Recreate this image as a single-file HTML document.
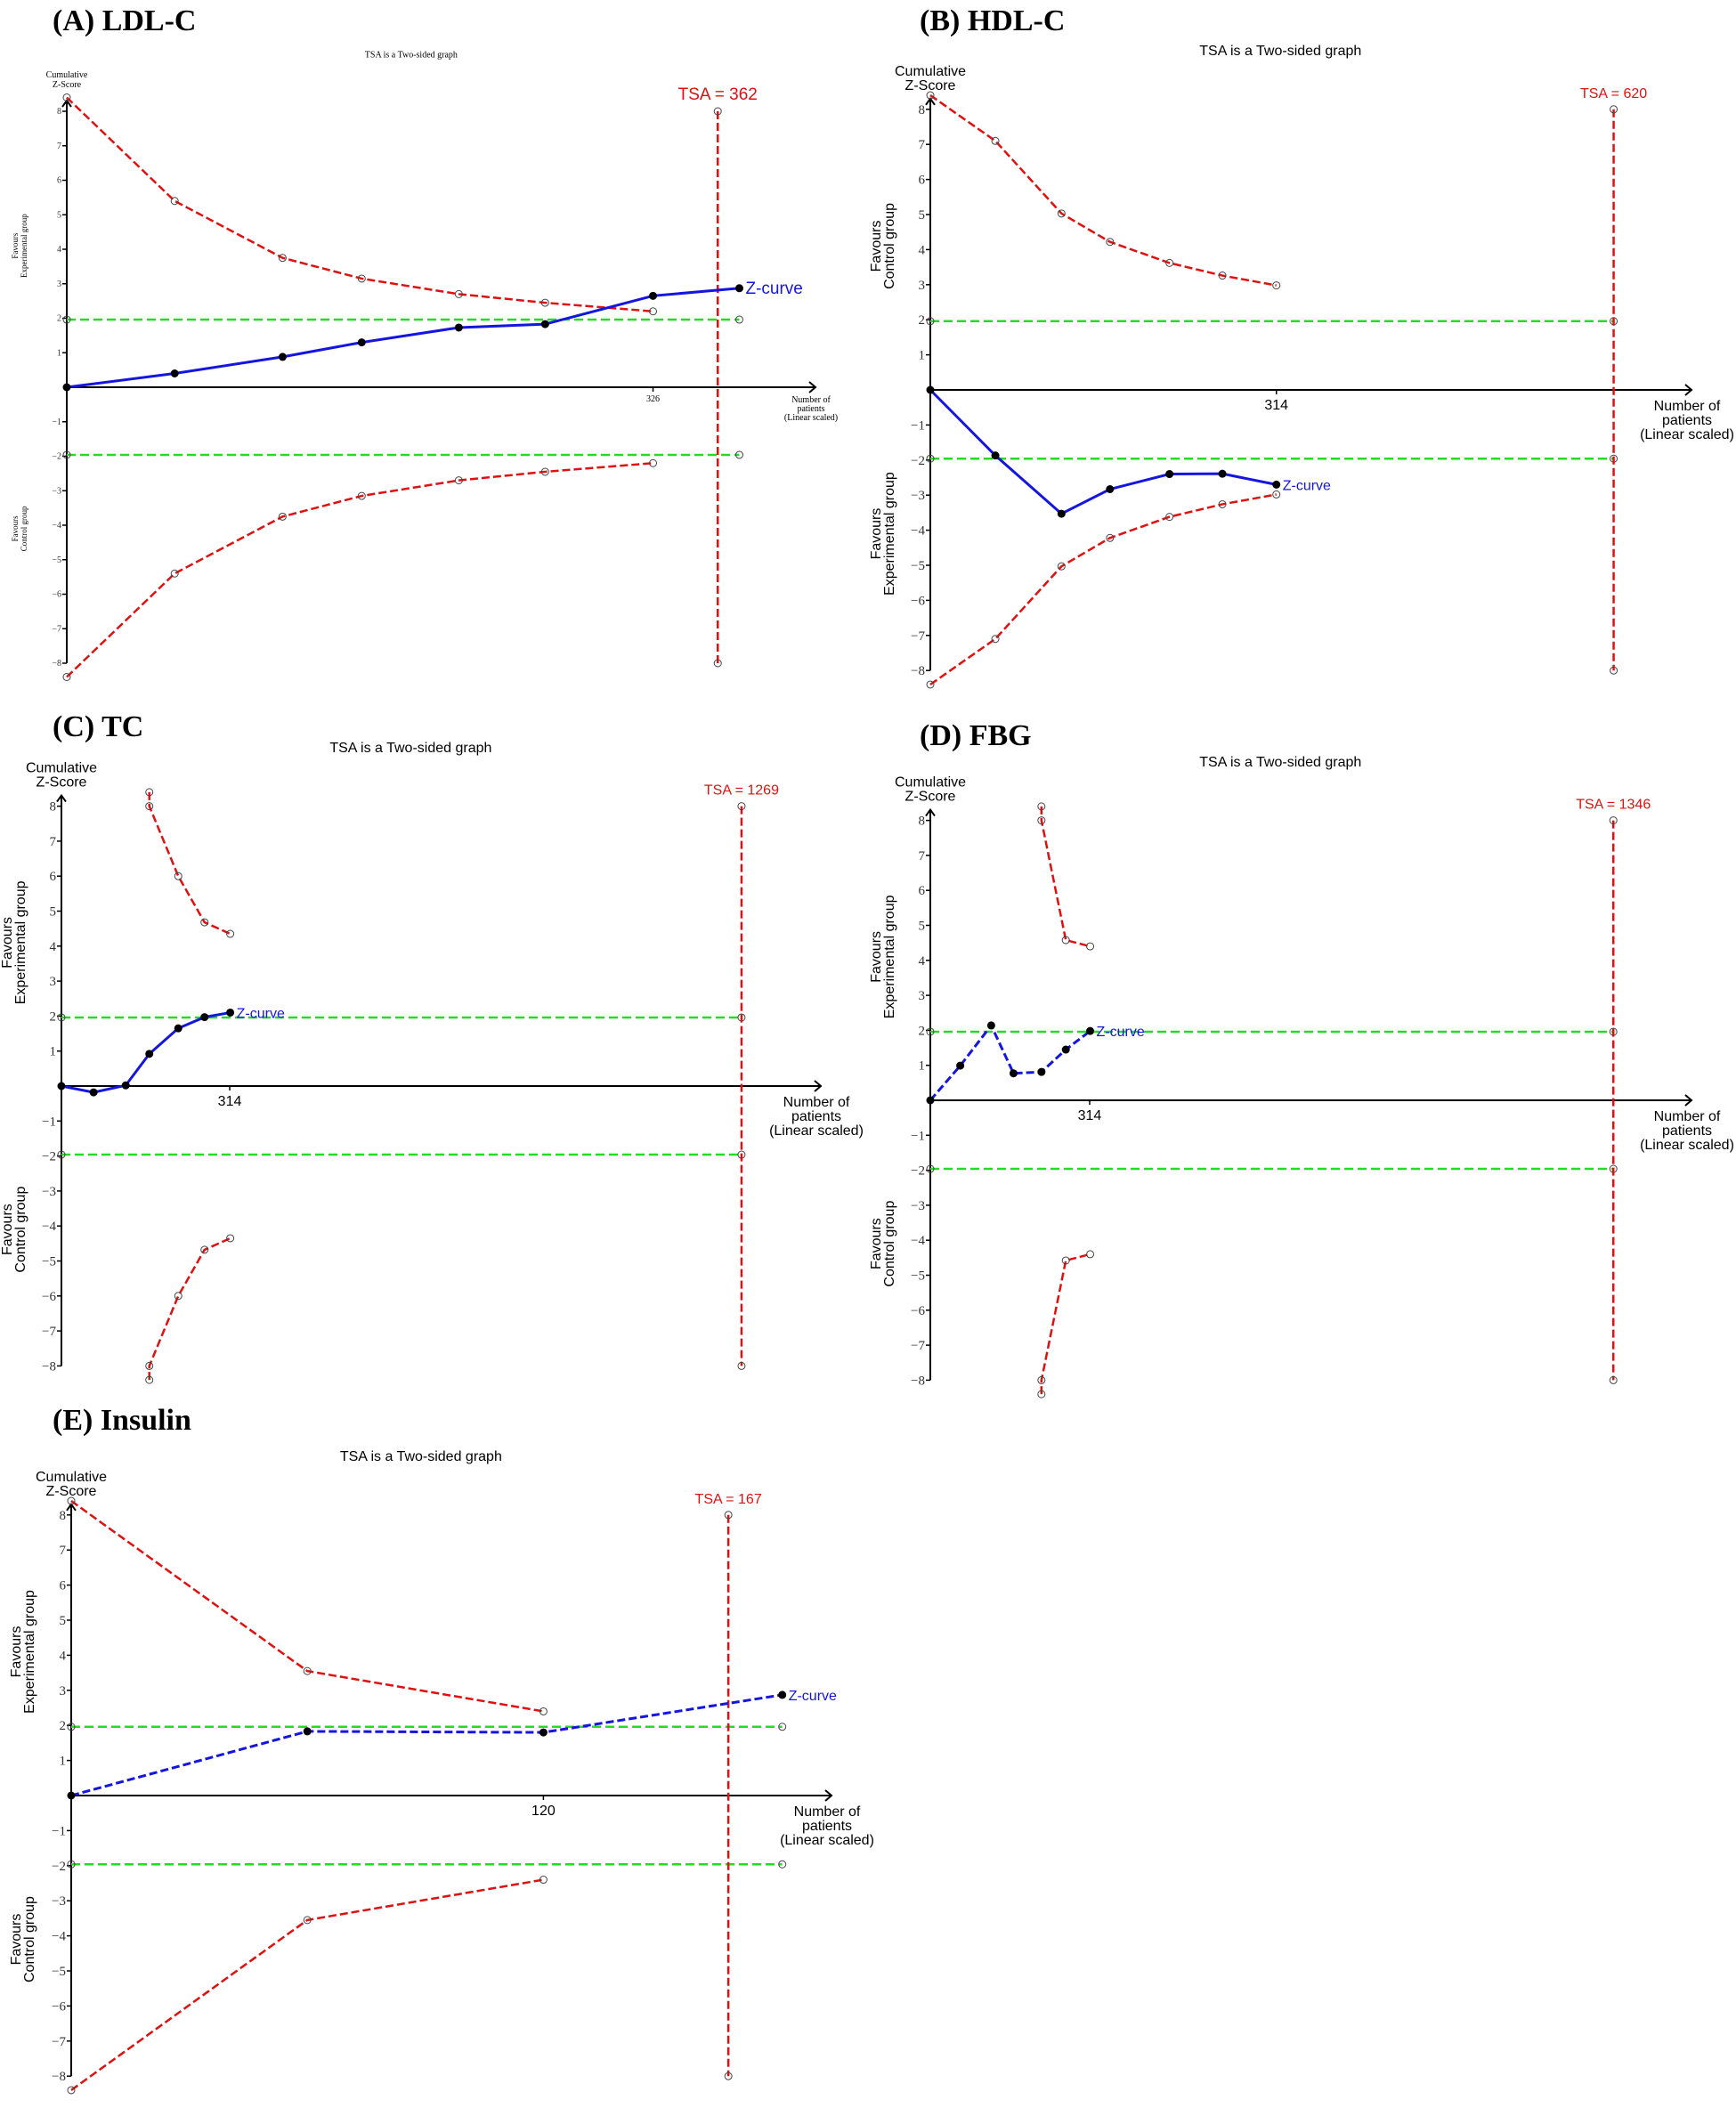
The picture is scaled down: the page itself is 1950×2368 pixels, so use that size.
<!DOCTYPE html>
<html><head><meta charset="utf-8"><style>
html,body{margin:0;padding:0;background:#fff;}
svg{display:block;}
</style></head>
<body>
<svg id="fig" width="1950" height="2368" viewBox="0 0 1950 2368" xmlns="http://www.w3.org/2000/svg">
<rect x="0" y="0" width="1950" height="2368" fill="#fff"/>
</svg>
<script>
// ===== Panel A: LDL-C =====
const aPatients = [0, 60, 120, 164, 218, 266, 326];
const aUpper = [8.4, 5.4, 3.75, 3.15, 2.7, 2.45, 2.2];
const aLower = [-8.4, -5.4, -3.75, -3.15, -2.7, -2.45, -2.2];
const aZPatients = [0, 60, 120, 164, 218, 266, 326, 374];
const aZ = [0, 0.4, 0.88, 1.3, 1.73, 1.83, 2.65, 2.87];
const aTSA = [362];
const aTicks = [326];
// ===== Panel B: HDL-C =====
const bPatients = [0, 59, 119, 163, 217, 265, 314];
const bUpper = [8.4, 7.1, 5.03, 4.22, 3.62, 3.26, 2.98];
const bLower = [-8.4, -7.1, -5.03, -4.22, -3.62, -3.26, -2.98];
const bZPatients = [0, 59, 119, 163, 217, 265, 314];
const bZ = [0, -1.87, -3.53, -2.83, -2.4, -2.39, -2.7];
const bTSA = [620];
const bTicks = [314];
// ===== Panel C: TC =====
const cPatients = [164, 164, 218, 267, 315];
const cUpper = [8.4, 8, 6, 4.68, 4.35];
const cLower = [-8.4, -8, -6, -4.68, -4.35];
const cZPatients = [0, 60, 120, 164, 218, 267, 315];
const cZ = [0, -0.18, 0.02, 0.92, 1.65, 1.97, 2.1];
const cTSA = [1269];
const cTicks = [314];
// ===== Panel D: FBG =====
const dPatients = [219, 219, 267, 315];
const dUpper = [8.4, 8, 4.58, 4.4];
const dLower = [-8.4, -8, -4.58, -4.4];
const dZPatients = [0, 59, 120, 164, 219, 267, 315];
const dZ = [0, 0.99, 2.14, 0.77, 0.81, 1.45, 1.98];
const dTSA = [1346];
const dTicks = [314];
// ===== Panel E: Insulin =====
const ePatients = [0, 60, 120];
const eUpper = [8.4, 3.55, 2.4];
const eLower = [-8.4, -3.55, -2.4];
const eZPatients = [0, 60, 120, 180.7];
const eZ = [0, 1.83, 1.8, 2.87];
const eTSA = [167];
const eTicks = [120];
const yTickValues = [8, 7, 6, 5, 4, 3, 2, 1, -1, -2, -3, -4, -5, -6, -7, -8];

const NS = 'http://www.w3.org/2000/svg';
const svg = document.getElementById('fig');
function mk(tag, attrs, parent, txt) {
  const e = document.createElementNS(NS, tag);
  for (const k in attrs) e.setAttribute(k, attrs[k]);
  if (txt !== undefined) e.textContent = txt;
  (parent || svg).appendChild(e);
  return e;
}

function drawPanel(p) {
  const g = mk('g', {});
  
  
  const X = v => p.axisX + v * p.ppp;
  const Y = v => p.zeroY - v * p.unit;
  const sans = '"Liberation Sans", sans-serif';
  const serif = '"Liberation Serif", serif';
  const small = p.small;
  // Panel title
  const t = mk('text', {x: p.titleX, y: p.titleY, 'font-family': serif, 'font-weight': 'bold', 'font-size': 34, fill: '#000'}, g, p.title);
  
  
  // chart subtitle
  const st = mk('text', {x: p.axisX + (p.axisEnd - p.axisX) * 0.46, y: p.zeroY - 8.4 * p.unit - 45, 'text-anchor': 'middle', 'font-family': small ? serif : sans, 'font-size': small ? 10 : 16, fill: '#000'}, g, 'TSA is a Two-sided graph');
  
  
  // y axis
  const yTop = Y(8) - 12, yBot = Y(-8);
  const ya = mk('path', {d: `M${p.axisX},${yBot} L${p.axisX},${yTop} M${p.axisX - 5},${yTop + 7} L${p.axisX},${yTop} L${p.axisX + 5},${yTop + 7}`, stroke: '#000', 'stroke-width': 2, fill: 'none'}, g);
  
  
  const yt = mk('text', {x: p.axisX, y: yTop - 26, 'text-anchor': 'middle', 'font-family': small ? serif : sans, 'font-size': small ? 10 : 16, fill: '#000'}, g);
  
  
  mk('tspan', {x: p.axisX, dy: 0}, yt, 'Cumulative');
  mk('tspan', {x: p.axisX, dy: small ? 11 : 16}, yt, 'Z-Score');
  yTickValues.forEach(v => {
    const tk = mk('line', {x1: p.axisX - 5, x2: p.axisX, y1: Y(v), y2: Y(v), stroke: '#000', 'stroke-width': 1.5}, g);
    
    
    const tl = mk('text', {x: p.axisX - 6, y: Y(v) + (small ? 3 : 5), 'text-anchor': 'end', 'font-family': serif, 'font-size': small ? 10 : 15, fill: '#333'}, g, String(v).replace('-', '\u2212'));
    
    
  });
  // side labels
  const side = (cy, l1, l2, nm) => {
    const s = mk('text', {transform: `translate(${p.sideX},${cy}) rotate(-90)`, 'text-anchor': 'middle', 'font-family': small ? serif : sans, 'font-size': small ? 9 : 16, fill: '#000'}, g);
    
    
    mk('tspan', {x: 0, dy: 0}, s, l1);
    mk('tspan', {x: 0, dy: small ? 10 : 15}, s, l2);
  };
  side(Y(4.1), 'Favours', p.upLabel, p.key + '-upper-side-label');
  side(Y(-4.1), 'Favours', p.lowLabel, p.key + '-lower-side-label');
  // x axis
  const xa = mk('path', {d: `M${p.axisX},${p.zeroY} L${p.axisEnd},${p.zeroY} M${p.axisEnd - 7},${p.zeroY - 6} L${p.axisEnd},${p.zeroY} L${p.axisEnd - 7},${p.zeroY + 6}`, stroke: '#000', 'stroke-width': 2, fill: 'none'}, g);
  
  
  p.ticks.forEach(v => {
    const tk = mk('line', {x1: X(v), x2: X(v), y1: p.zeroY, y2: p.zeroY + 5, stroke: '#000', 'stroke-width': 1.5}, g);
    
    
    const tl = mk('text', {x: X(v), y: p.zeroY + (small ? 16 : 22), 'text-anchor': 'middle', 'font-family': small ? serif : sans, 'font-size': small ? 10 : 16, fill: '#000'}, g, String(v));
    
    
  });
  const xt = mk('text', {x: p.axisEnd - 5, y: p.zeroY + (small ? 17 : 23), 'text-anchor': 'middle', 'font-family': small ? serif : sans, 'font-size': small ? 10 : 16, fill: '#000'}, g);
  
  
  mk('tspan', {x: p.axisEnd - 5, dy: 0}, xt, 'Number of');
  mk('tspan', {x: p.axisEnd - 5, dy: small ? 10 : 16}, xt, 'patients');
  mk('tspan', {x: p.axisEnd - 5, dy: small ? 10 : 16}, xt, '(Linear scaled)');
  // green conventional boundaries
  const gEnd = p.greenEnd;
  [1.96, -1.96].forEach((v, i) => {
    const gl = mk('line', {x1: X(0), x2: X(gEnd), y1: Y(v), y2: Y(v), stroke: '#22dd22', 'stroke-width': 2.5, 'stroke-dasharray': '10 5'}, g);
    
    
    [0, gEnd].forEach(px => {
      const c = mk('circle', {cx: X(px), cy: Y(v), r: 4, fill: 'none', stroke: '#444', 'stroke-width': 1}, g);
      
      
    });
  });
  // TSA required information size line
  const tx = X(p.tsa[0]);
  const tl = mk('line', {x1: tx, x2: tx, y1: Y(8), y2: Y(-8), stroke: '#e01010', 'stroke-width': 2.5, 'stroke-dasharray': '9 4'}, g);
  
  
  [8, -8].forEach(v => {
    const c = mk('circle', {cx: tx, cy: Y(v), r: 4, fill: 'none', stroke: '#444', 'stroke-width': 1}, g);
    
    
  });
  const tlab = mk('text', {x: tx, y: Y(8) - 13, 'text-anchor': 'middle', 'font-family': sans, 'font-size': small ? 19 : 16, fill: '#e01010'}, g, 'TSA = ' + p.tsa[0]);
  
  
  // monitoring boundaries
  const bnd = (xs, ys, nm) => {
    const d = xs.map((x, i) => (i ? 'L' : 'M') + X(x) + ',' + Y(ys[i])).join(' ');
    const pl = mk('path', {d, fill: 'none', stroke: '#e01010', 'stroke-width': 2.5, 'stroke-dasharray': '9 4'}, g);
    
    
    xs.forEach((x, i) => {
      const c = mk('circle', {cx: X(x), cy: Y(ys[i]), r: 4, fill: '#fff', 'fill-opacity': 0, stroke: '#444', 'stroke-width': 1}, g);
      
      
    });
  };
  bnd(p.bx, p.up, p.key + '-upper-monitoring-boundary');
  bnd(p.bx, p.low, p.key + '-lower-monitoring-boundary');
  // Z-curve
  const zd = p.zx.map((x, i) => (i ? 'L' : 'M') + X(x) + ',' + Y(p.z[i])).join(' ');
  const zl = mk('path', {d: zd, fill: 'none', stroke: '#1515e0', 'stroke-width': 3, 'stroke-dasharray': p.zDash ? '9 4' : 'none'}, g);
  
  
  p.zx.forEach((x, i) => {
    const c = mk('circle', {cx: X(x), cy: Y(p.z[i]), r: 4.5, fill: '#000'}, g);
    
    
  });
  const last = p.zx.length - 1;
  const zlab = mk('text', {x: X(p.zx[last]) + 7, y: Y(p.z[last]) + 6, 'font-family': sans, 'font-size': small ? 19 : 16, fill: '#1515e0'}, g, 'Z-curve');
  
  
}

const panels = [
  {key: 'ldl-c', title: '(A) LDL-C', titleX: 59, titleY: 34, axisX: 75, zeroY: 435, unit: 38.75, ppp: 2.02, axisEnd: 916, sideX: 20, small: true,
   upLabel: 'Experimental group', lowLabel: 'Control group', bx: aPatients, up: aUpper, low: aLower, zx: aZPatients, z: aZ, tsa: aTSA, ticks: aTicks, greenEnd: 374, zDash: false},
  {key: 'hdl-c', title: '(B) HDL-C', titleX: 1033, titleY: 34, axisX: 1045, zeroY: 438, unit: 39.4, ppp: 1.238, axisEnd: 1900, sideX: 989, small: false,
   upLabel: 'Control group', lowLabel: 'Experimental group', bx: bPatients, up: bUpper, low: bLower, zx: bZPatients, z: bZ, tsa: bTSA, ticks: bTicks, greenEnd: 620, zDash: false},
  {key: 'tc', title: '(C) TC', titleX: 59, titleY: 827, axisX: 69, zeroY: 1220, unit: 39.3, ppp: 0.602, axisEnd: 922, sideX: 13, small: false,
   upLabel: 'Experimental group', lowLabel: 'Control group', bx: cPatients, up: cUpper, low: cLower, zx: cZPatients, z: cZ, tsa: cTSA, ticks: cTicks, greenEnd: 1269, zDash: false},
  {key: 'fbg', title: '(D) FBG', titleX: 1033, titleY: 837, axisX: 1045, zeroY: 1236, unit: 39.3, ppp: 0.57, axisEnd: 1900, sideX: 989, small: false,
   upLabel: 'Experimental group', lowLabel: 'Control group', bx: dPatients, up: dUpper, low: dLower, zx: dZPatients, z: dZ, tsa: dTSA, ticks: dTicks, greenEnd: 1346, zDash: true},
  {key: 'insulin', title: '(E) Insulin', titleX: 59, titleY: 1606, axisX: 80, zeroY: 2017, unit: 39.4, ppp: 4.42, axisEnd: 934, sideX: 23, small: false,
   upLabel: 'Experimental group', lowLabel: 'Control group', bx: ePatients, up: eUpper, low: eLower, zx: eZPatients, z: eZ, tsa: eTSA, ticks: eTicks, greenEnd: 180.7, zDash: true}
];
panels.forEach(drawPanel);
</script>
</body></html>
